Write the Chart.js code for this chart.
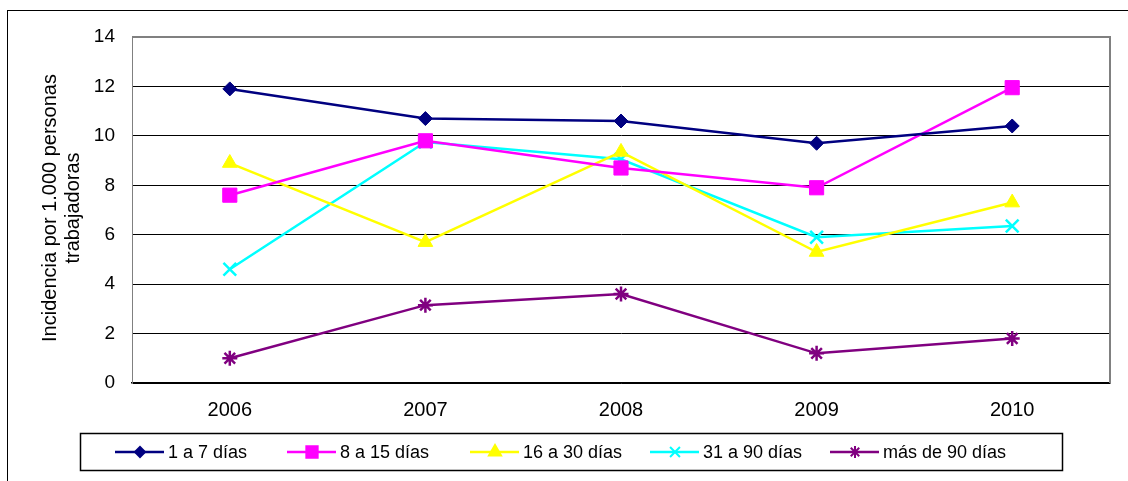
<!DOCTYPE html>
<html>
<head>
<meta charset="utf-8">
<script src="https://cdn.jsdelivr.net/npm/chart.js@4/dist/chart.umd.min.js"></script>
<style>
  html, body { margin: 0; padding: 0; background: #fff; }
  #wrap { width: 1128px; height: 481px; position: relative; }
</style>
</head>
<body>
<div id="wrap"><canvas id="chart"></canvas></div>
<script>
const FONT = "Arial, 'Liberation Sans', sans-serif";

const years = ['2006', '2007', '2008', '2009', '2010'];
const seriesNames = ['1 a 7 días', '8 a 15 días', '16 a 30 días', '31 a 90 días', 'más de 90 días'];
const dias1a7 = [11.9, 10.7, 10.6, 9.7, 10.4];
const dias8a15 = [7.6, 9.8, 8.7, 7.9, 11.95];
const dias16a30 = [8.9, 5.7, 9.35, 5.3, 7.3];
const dias31a90 = [4.6, 9.75, 9.05, 5.9, 6.35];
const diasMas90 = [1.0, 3.15, 3.6, 1.2, 1.8];
const yTicks = [0, 2, 4, 6, 8, 10, 12, 14];
const yTitle = ['Incidencia por 1.000 personas', 'trabajadoras'];

const seriesValues = [dias1a7, dias8a15, dias16a30, dias31a90, diasMas90];
const colors = ['#000080', '#ff00ff', '#ffff00', '#00ffff', '#800080'];
const styles = [
  { pointStyle: 'rectRot', radius: 7, legendRadius: 5 },
  { pointStyle: 'rect', radius: 10, legendRadius: 8 },
  { pointStyle: 'triangle', radius: 8.5, legendRadius: 7 },
  { pointStyle: 'crossRot', radius: 9, legendRadius: 7 },
  { pointStyle: 'star', radius: 7.5, legendRadius: 6 }
];

// plot area (px)
const PLOT = { left: 132, top: 37, right: 1110, bottom: 383 };

const datasets = seriesValues.map((vals, i) => ({
  label: seriesNames[i],
  data: vals,
  borderColor: colors[i],
  backgroundColor: colors[i],
  borderWidth: 2.5,
  pointStyle: styles[i].pointStyle,
  pointRadius: styles[i].radius,
  pointBorderWidth: (styles[i].pointStyle === 'crossRot' || styles[i].pointStyle === 'star') ? 2.5 : 1,
  pointBackgroundColor: colors[i],
  pointBorderColor: colors[i],
  tension: 0,
  fill: false
}));

const frame = {
  id: 'frame',
  afterDraw(chart) {
    const ctx = chart.ctx;
    const a = chart.chartArea;
    ctx.save();
    // outer chart border
    ctx.strokeStyle = '#000';
    ctx.lineWidth = 1;
    ctx.strokeRect(7.5, 10.5, 1200, 600);
    // plot border top/right (grey)
    ctx.strokeStyle = '#808080';
    ctx.lineWidth = 2;
    ctx.beginPath();
    ctx.moveTo(a.left, a.top);
    ctx.lineTo(a.right, a.top);
    ctx.lineTo(a.right, a.bottom);
    ctx.stroke();

    // y axis title
    ctx.fillStyle = '#000';
    ctx.font = '20px ' + FONT;
    ctx.textAlign = 'center';
    ctx.textBaseline = 'middle';
    const cy = (a.top + a.bottom) / 2 - 2;
    ctx.translate(50, cy);
    ctx.rotate(-Math.PI / 2);
    ctx.fillText(yTitle[0], 0, 0);
    ctx.fillText(yTitle[1], 0, 23);
    ctx.restore();

    // legend
    ctx.save();
    ctx.strokeStyle = '#000';
    ctx.lineWidth = 1.5;
    ctx.strokeRect(80.5, 433.5, 982, 37);
    const lineX = [115, 287, 470, 650, 830];
    const ly = 452;
    ctx.font = '18px ' + FONT;
    ctx.textAlign = 'left';
    ctx.textBaseline = 'middle';
    chart.data.datasets.forEach((ds, i) => {
      const x0 = lineX[i];
      ctx.strokeStyle = ds.borderColor;
      ctx.lineWidth = 2.5;
      ctx.beginPath();
      ctx.moveTo(x0, ly);
      ctx.lineTo(x0 + 49, ly);
      ctx.stroke();
      ctx.fillStyle = ds.backgroundColor;
      ctx.strokeStyle = ds.borderColor;
      ctx.lineWidth = 2;
      Chart.helpers.drawPoint(ctx, {
        pointStyle: ds.pointStyle,
        radius: styles[i].legendRadius,
        rotation: 0,
        borderWidth: 2
      }, x0 + 25, ly);
      ctx.fillStyle = '#000';
      ctx.fillText(ds.label, x0 + 53, ly + 1);
    });
    ctx.restore();
  }
};

new Chart(document.getElementById('chart'), {
  type: 'line',
  data: { labels: years, datasets: datasets },
  plugins: [frame],
  options: {
    responsive: true,
    maintainAspectRatio: false,
    animation: false,
    layout: { padding: { left: 0, top: PLOT.top, right: 1128 - PLOT.right, bottom: 0 } },
    plugins: { legend: { display: false }, tooltip: { enabled: false }, title: { display: false } },
    scales: {
      x: {
        offset: true,
        afterFit(scale) { scale.height = 481 - PLOT.bottom; },
        grid: { display: false, drawTicks: false },
        border: { display: true, color: '#000', width: 1.5 },
        ticks: { color: '#000', font: { family: FONT, size: 20 }, padding: 15, maxRotation: 0 }
      },
      y: {
        min: 0,
        max: 14,
        afterFit(scale) { scale.width = PLOT.left; },
        afterBuildTicks(scale) { scale.ticks = yTicks.map(v => ({ value: v })); },
        grid: {
          drawTicks: false,
          color: ctx => (ctx.tick && ctx.tick.value === 14) ? 'rgba(0,0,0,0)' : '#000',
          lineWidth: 1
        },
        border: { display: true, color: '#808080', width: 1 },
        ticks: { color: '#000', font: { family: FONT, size: 19 }, padding: 17 }
      }
    }
  }
});
</script>
</body>
</html>
